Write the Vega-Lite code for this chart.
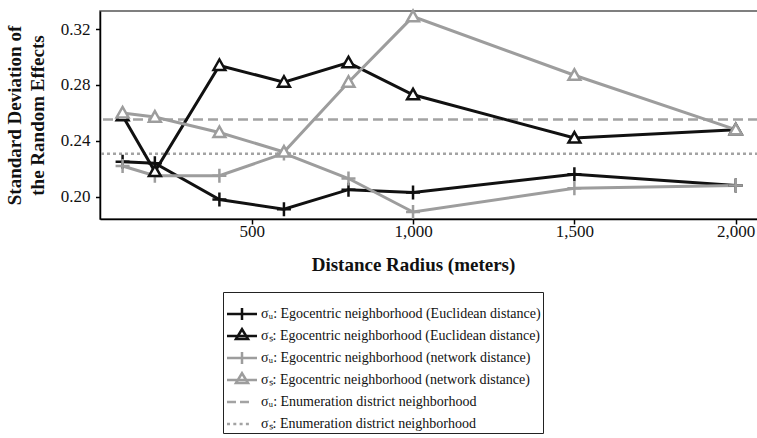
{
  "$schema": "https://vega.github.io/schema/vega-lite/v6.json",
  "width": 658,
  "height": 208,
  "autosize": {"type": "none"},
  "padding": {"left": 100, "top": 11, "right": 0, "bottom": 219},
  "background": "white",
  "datasets": {
    "lines": [
      {"series": "σᵤ: Egocentric neighborhood (Euclidean distance)", "radius": 100, "value": 0.225},
      {"series": "σᵤ: Egocentric neighborhood (Euclidean distance)", "radius": 200, "value": 0.224},
      {"series": "σᵤ: Egocentric neighborhood (Euclidean distance)", "radius": 400, "value": 0.198},
      {"series": "σᵤ: Egocentric neighborhood (Euclidean distance)", "radius": 600, "value": 0.191},
      {"series": "σᵤ: Egocentric neighborhood (Euclidean distance)", "radius": 800, "value": 0.205},
      {"series": "σᵤ: Egocentric neighborhood (Euclidean distance)", "radius": 1000, "value": 0.203},
      {"series": "σᵤ: Egocentric neighborhood (Euclidean distance)", "radius": 1500, "value": 0.216},
      {"series": "σᵤ: Egocentric neighborhood (Euclidean distance)", "radius": 2000, "value": 0.208},
      {"series": "σₛ: Egocentric neighborhood (Euclidean distance)", "radius": 100, "value": 0.258},
      {"series": "σₛ: Egocentric neighborhood (Euclidean distance)", "radius": 200, "value": 0.218},
      {"series": "σₛ: Egocentric neighborhood (Euclidean distance)", "radius": 400, "value": 0.294},
      {"series": "σₛ: Egocentric neighborhood (Euclidean distance)", "radius": 600, "value": 0.282},
      {"series": "σₛ: Egocentric neighborhood (Euclidean distance)", "radius": 800, "value": 0.296},
      {"series": "σₛ: Egocentric neighborhood (Euclidean distance)", "radius": 1000, "value": 0.273},
      {"series": "σₛ: Egocentric neighborhood (Euclidean distance)", "radius": 1500, "value": 0.242},
      {"series": "σₛ: Egocentric neighborhood (Euclidean distance)", "radius": 2000, "value": 0.248},
      {"series": "σᵤ: Egocentric neighborhood (network distance)", "radius": 100, "value": 0.222},
      {"series": "σᵤ: Egocentric neighborhood (network distance)", "radius": 200, "value": 0.215},
      {"series": "σᵤ: Egocentric neighborhood (network distance)", "radius": 400, "value": 0.215},
      {"series": "σᵤ: Egocentric neighborhood (network distance)", "radius": 600, "value": 0.231},
      {"series": "σᵤ: Egocentric neighborhood (network distance)", "radius": 800, "value": 0.213},
      {"series": "σᵤ: Egocentric neighborhood (network distance)", "radius": 1000, "value": 0.189},
      {"series": "σᵤ: Egocentric neighborhood (network distance)", "radius": 1500, "value": 0.206},
      {"series": "σᵤ: Egocentric neighborhood (network distance)", "radius": 2000, "value": 0.208},
      {"series": "σₛ: Egocentric neighborhood (network distance)", "radius": 100, "value": 0.260},
      {"series": "σₛ: Egocentric neighborhood (network distance)", "radius": 200, "value": 0.257},
      {"series": "σₛ: Egocentric neighborhood (network distance)", "radius": 400, "value": 0.246},
      {"series": "σₛ: Egocentric neighborhood (network distance)", "radius": 600, "value": 0.232},
      {"series": "σₛ: Egocentric neighborhood (network distance)", "radius": 800, "value": 0.282},
      {"series": "σₛ: Egocentric neighborhood (network distance)", "radius": 1000, "value": 0.329},
      {"series": "σₛ: Egocentric neighborhood (network distance)", "radius": 1500, "value": 0.287},
      {"series": "σₛ: Egocentric neighborhood (network distance)", "radius": 2000, "value": 0.248}
    ],
    "rules": [
      {"series": "σᵤ: Enumeration district neighborhood", "value": 0.2553},
      {"series": "σₛ: Enumeration district neighborhood", "value": 0.2307}
    ],
    "keys": [
      {"series": "σᵤ: Egocentric neighborhood (Euclidean distance)"},
      {"series": "σₛ: Egocentric neighborhood (Euclidean distance)"},
      {"series": "σᵤ: Egocentric neighborhood (network distance)"},
      {"series": "σₛ: Egocentric neighborhood (network distance)"},
      {"series": "σᵤ: Enumeration district neighborhood"},
      {"series": "σₛ: Enumeration district neighborhood"}
    ]
  },
  "config": {
    "font": "Liberation Serif",
    "view": {"stroke": "#555555", "strokeWidth": 1.5},
    "axis": {
      "grid": false,
      "domainColor": "#000000",
      "domainWidth": 1.5,
      "tickColor": "#000000",
      "tickWidth": 1.5,
      "labelFont": "Liberation Serif",
      "labelFontSize": 17,
      "labelColor": "#111111",
      "titleFont": "Liberation Serif",
      "titleFontSize": 19,
      "titleFontWeight": "bold",
      "titleColor": "#111111",
      "labelFlush": false
    },
    "legend": {
      "orient": "none",
      "legendX": 123,
      "legendY": 281,
      "strokeColor": "#222222",
      "strokeWidth": 1,
      "padding": 2,
      "labelFont": "Liberation Serif",
      "labelFontSize": 14,
      "labelColor": "#111111",
      "labelOffset": 22,
      "labelLimit": 0,
      "rowPadding": -1,
      "gridAlign": "all",
      "symbolSize": 100,
      "symbolStrokeWidth": 2.5,
      "titleFontSize": 8,
      "titlePadding": 5
    }
  },
  "layer": [
    {
      "data": {"name": "rules"},
      "mark": {"type": "rule", "strokeWidth": 2.5},
      "encoding": {
        "y": {"field": "value", "type": "quantitative"},
        "color": {"field": "series", "type": "nominal", "legend": {"title": " "}},
        "strokeDash": {
          "field": "series",
          "type": "nominal",
          "legend": null,
          "scale": {
            "domain": ["σᵤ: Enumeration district neighborhood", "σₛ: Enumeration district neighborhood"],
            "range": [[10, 5], [3, 3]]
          }
        }
      }
    },
    {
      "data": {"name": "lines"},
      "mark": {"type": "line", "strokeWidth": 3},
      "encoding": {
        "x": {
          "field": "radius",
          "type": "quantitative",
          "scale": {"domain": [30, 2069], "nice": false, "zero": false},
          "axis": {
            "values": [500, 1000, 1500, 2000],
            "format": ",d",
            "title": "Distance Radius (meters)",
            "tickSize": 5,
            "labelPadding": -1,
            "titleX": 313,
            "titleY": 36
          }
        },
        "y": {
          "field": "value",
          "type": "quantitative",
          "scale": {"domain": [0.184, 0.333], "nice": false, "zero": false},
          "axis": {
            "values": [0.2, 0.22, 0.24, 0.26, 0.28, 0.3, 0.32],
            "labelExpr": "round(datum.value * 100) % 4 == 0 ? format(datum.value, '.2f') : ''",
            "tickSize": 4.5,
            "labelPadding": 5.5,
            "title": ["Standard Deviation of", "the Random Effects"],
            "titleX": -76,
            "titleY": 104,
            "titleBaseline": "bottom",
            "titleLineHeight": 23
          }
        },
        "color": {"field": "series", "type": "nominal", "legend": {"title": " "}}
      }
    },
    {
      "data": {"name": "lines"},
      "transform": [{"filter": {"field": "series", "oneOf": ["σᵤ: Egocentric neighborhood (Euclidean distance)", "σᵤ: Egocentric neighborhood (network distance)"]}}],
      "mark": {"type": "point", "shape": "M-1,0H1M0,-1V1", "size": 196, "filled": false, "strokeWidth": 2.5, "opacity": 1},
      "encoding": {
        "x": {"field": "radius", "type": "quantitative"},
        "y": {"field": "value", "type": "quantitative"},
        "color": {"field": "series", "type": "nominal", "legend": {"title": " "}}
      }
    },
    {
      "data": {"name": "lines"},
      "transform": [{"filter": {"field": "series", "oneOf": ["σₛ: Egocentric neighborhood (Euclidean distance)", "σₛ: Egocentric neighborhood (network distance)"]}}],
      "mark": {"type": "point", "shape": "M-0.85,0.65L0,-0.85L0.85,0.65Z", "size": 196, "filled": false, "fill": "white", "strokeWidth": 2.5, "opacity": 1},
      "encoding": {
        "x": {"field": "radius", "type": "quantitative"},
        "y": {"field": "value", "type": "quantitative"},
        "color": {"field": "series", "type": "nominal", "legend": {"title": " "}}
      }
    },
    {
      "data": {"name": "keys"},
      "mark": {"type": "point", "filled": false, "size": 100, "strokeWidth": 2.5, "opacity": 1},
      "encoding": {
        "x": {"field": "radius", "type": "quantitative"},
        "y": {"field": "value", "type": "quantitative"},
        "color": {
          "field": "series",
          "type": "nominal",
          "scale": {
            "domain": [
              "σᵤ: Egocentric neighborhood (Euclidean distance)",
              "σₛ: Egocentric neighborhood (Euclidean distance)",
              "σᵤ: Egocentric neighborhood (network distance)",
              "σₛ: Egocentric neighborhood (network distance)",
              "σᵤ: Enumeration district neighborhood",
              "σₛ: Enumeration district neighborhood"
            ],
            "range": ["#111111", "#111111", "#9d9d9d", "#9d9d9d", "#a3a3a3", "#a3a3a3"]
          },
          "legend": {"title": " ", "encode": {"symbols": {"update": {"fill": {"value": "white"}, "strokeWidth": {"value": 2.5}}}}}
        },
        "shape": {
          "field": "series",
          "type": "nominal",
          "scale": {
            "domain": [
              "σᵤ: Egocentric neighborhood (Euclidean distance)",
              "σₛ: Egocentric neighborhood (Euclidean distance)",
              "σᵤ: Egocentric neighborhood (network distance)",
              "σₛ: Egocentric neighborhood (network distance)",
              "σᵤ: Enumeration district neighborhood",
              "σₛ: Enumeration district neighborhood"
            ],
            "range": [
              "M-1,0H5M2,-1.2V1.2",
              "M-1,0H5M0.8,0.6L2,-1.35L3.2,0.6Z",
              "M-1,0H5M2,-1.2V1.2",
              "M-1,0H5M0.8,0.6L2,-1.35L3.2,0.6Z",
              "M-1,0H0.8M1.6,0H3.4",
              "M-1,0H-0.4M0.26,0H0.86M1.52,0H2.12M2.78,0H3.38"
            ]
          },
          "legend": {"title": " ", "encode": {"symbols": {"update": {"fill": {"value": "white"}, "strokeWidth": {"value": 2.5}}}}}
        }
      }
    }
  ]
}
